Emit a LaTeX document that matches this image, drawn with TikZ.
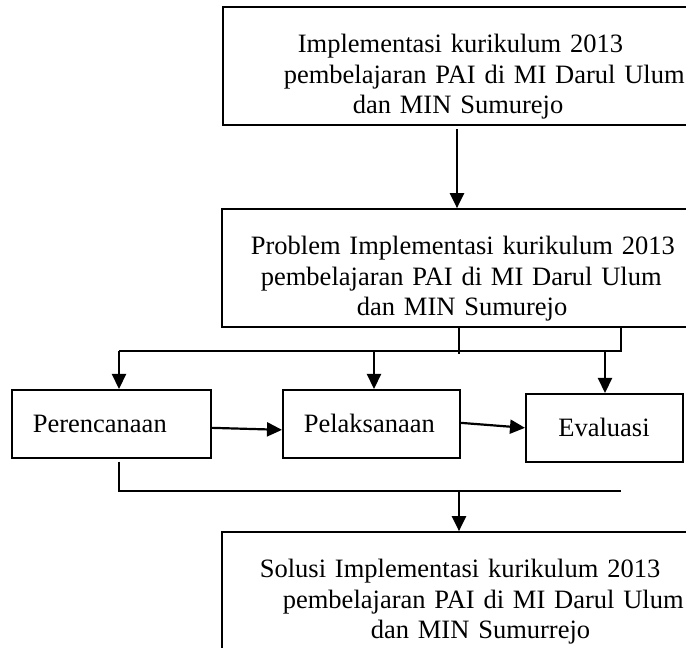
\documentclass[tikz,border=0pt]{standalone}
\usepackage{fontspec}
\setmainfont{Liberation Serif}
\usetikzlibrary{arrows.meta,calc}
\begin{document}
\begin{tikzpicture}[x=1pt,y=1pt,
  txt/.style={font=\fontsize{26.5pt}{30.5pt}\selectfont},
  bigbox/.style={draw, line width=1.7pt, txt, inner sep=0pt, align=left, anchor=base west, text height=46pt, text depth=72pt},
  smallbox/.style={draw, line width=1.7pt, txt, align=left, inner ysep=0pt, minimum height=68pt, anchor=north west},
  conn/.style={line width=1.7pt},
  arr/.style={line width=2.2pt, -{Triangle[length=15pt,width=14pt]}}
]
\useasboundingbox (0,0) rectangle (686,648);
\fill[white] (0,0) rectangle (686,648);
\clip (0,0) rectangle (686,648);

\node[bigbox, text width=478pt] (T) at (222,595)
  {\hspace*{75pt}Implementasi kurikulum 2013\\\hspace*{61pt}pembelajaran PAI di MI Darul Ulum\\\hspace*{130pt}dan MIN Sumurejo};
\node[bigbox, text width=479pt] (M) at (221,393)
  {\hspace*{29pt}Problem Implementasi kurikulum 2013\\\hspace*{39pt}pembelajaran PAI di MI Darul Ulum\\\hspace*{135pt}dan MIN Sumurejo};
\node[bigbox, text width=479pt, text depth=100pt] (S) at (221,70)
  {\hspace*{38pt}Solusi Implementasi kurikulum 2013\\\hspace*{61pt}pembelajaran PAI di MI Darul Ulum\\\hspace*{149pt}dan MIN Sumurrejo};

\node[smallbox, text width=157pt, inner xsep=21pt] (P1) at (11,259) {Perencanaan};
\node[smallbox, text width=135pt, inner xsep=21pt] (P2) at (282,259) {Pelaksanaan};
\node[smallbox, text width=92pt, inner xsep=32.5pt] (P3) at (525,255) {Evaluasi};

% top to middle
\draw[arr] ($(T.south west)+(235pt,-3pt)$) -- ($(M.north west)+(236pt,0)$);

% branch from middle box
\coordinate (hl) at (119,297);
\coordinate (hr) at (621,297);
\draw[conn] ($(M.south west)+(400pt,0)$) -- (hr) -- (hl);
\draw[conn] ($(M.south west)+(238pt,0)$) -- ++(0,-26pt);

\coordinate (a1) at ($(P1.north west)+(108pt,0)$);
\coordinate (a2) at ($(P2.north west)+(92pt,0)$);
\coordinate (a3) at ($(P3.north west)+(80pt,0)$);
\draw[arr] (a1 |- hl) -- (a1);
\draw[arr] (a2 |- hl) -- (a2);
\draw[arr] (a3 |- hl) -- (a3);

% horizontal flow
\draw[arr] ($(P1.east)+(0,-4pt)$) -- ($(P2.west)+(0,-6pt)$);
\draw[arr] ($(P2.east)+(0,1pt)$) -- (P3.west);

% bottom collector
\coordinate (bl) at ($(P1.south west)+(108pt,-3pt)$);
\coordinate (br) at (621,157);
\draw[conn] (bl) |- (br);
\coordinate (a4) at ($(S.north west)+(238pt,0)$);
\draw[arr] (a4 |- br) -- (a4);
\end{tikzpicture}
\end{document}
